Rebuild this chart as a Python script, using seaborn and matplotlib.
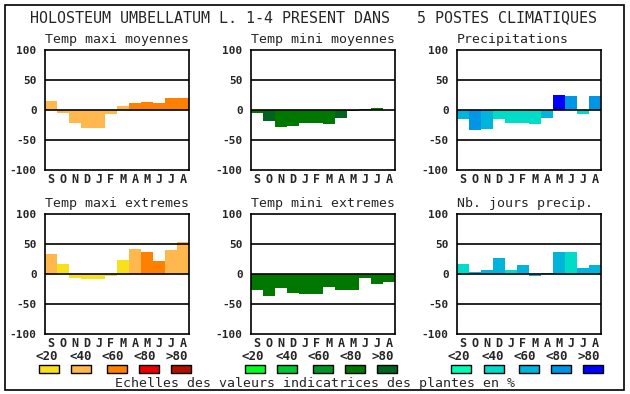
import numpy as np
import pandas as pd
import matplotlib
matplotlib.use("Agg")
import matplotlib.pyplot as plt
from matplotlib.patches import Rectangle
import seaborn as sns

sns.set_style("white")
plt.rcParams['font.family'] = ['DejaVu Sans Mono', 'DejaVu Sans']

# Data
months = ["S", "O", "N", "D", "J", "F", "M", "A", "M", "J", "J", "A"]
class_labels = ["<20", "<40", "<60", "<80", ">80"]

temp_maxi_moy = [15, -5, -22, -30, -30, -7, 7, 12, 14, 11, 20, 20]
temp_maxi_moy_cls = [1, 1, 1, 1, 1, 1, 1, 2, 2, 2, 2, 2]

temp_mini_moy = [-5, -18, -28, -26, -21, -21, -23, -14, -2, 2, 4, 0]
temp_mini_moy_cls = [3, 4, 3, 3, 3, 3, 3, 4, 4, 3, 3, 3]

precip = [-15, -34, -31, -15, -21, -22, -24, -14, 25, 24, -7, 24]
precip_cls = [2, 3, 2, 1, 1, 1, 1, 2, 4, 3, 1, 3]

temp_maxi_ext = [34, 17, -6, -8, -8, -3, 24, 42, 37, 21, 40, 54]
temp_maxi_ext_cls = [1, 0, 0, 0, 0, 0, 0, 1, 2, 2, 1, 1]

temp_mini_ext = [-27, -36, -23, -31, -33, -34, -21, -27, -27, -6, -16, -13]
temp_mini_ext_cls = [3, 3, 3, 3, 3, 3, 3, 3, 3, 3, 3, 3]

nb_jours = [17, 4, 7, 27, 7, 15, -3, 2, 37, 37, 10, 15]
nb_jours_cls = [1, 2, 2, 2, 1, 2, 2, 1, 2, 1, 2, 2]

orange_pal = ["#f8e01c", "#ffb84d", "#ff8000", "#e80000", "#b01000"]
green_pal = ["#00ff20", "#00c832", "#009628", "#007800", "#006420"]
blue_pal = ["#00ffb4", "#00dcc8", "#00b4dc", "#0096e6", "#0000ff"]

panels = [
    ("Temp maxi moyennes", temp_maxi_moy, temp_maxi_moy_cls, orange_pal),
    ("Temp mini moyennes", temp_mini_moy, temp_mini_moy_cls, green_pal),
    ("Precipitations", precip, precip_cls, blue_pal),
    ("Temp maxi extremes", temp_maxi_ext, temp_maxi_ext_cls, orange_pal),
    ("Temp mini extremes", temp_mini_ext, temp_mini_ext_cls, green_pal),
    ("Nb. jours precip.", nb_jours, nb_jours_cls, blue_pal),
]

W, H = 630, 394
fig = plt.figure(figsize=(W / 100, H / 100), dpi=100)

col_left = [45, 251, 457]
row_top = [50, 214]
ax_w, ax_h = 144, 120

for i, (title, vals, cls, pal) in enumerate(panels):
    r, c = divmod(i, 3)
    x0 = col_left[c]
    y0 = row_top[r]
    ax = fig.add_axes([x0 / W, 1 - (y0 + ax_h) / H, ax_w / W, ax_h / H])
    df = pd.DataFrame({"pos": range(12), "val": vals,
                       "cls": [class_labels[k] for k in cls]})
    sns.barplot(data=df, x="pos", y="val", hue="cls", hue_order=class_labels,
                palette=dict(zip(class_labels, pal)), dodge=False, width=1.0,
                legend=False, ax=ax, saturation=1, linewidth=0, edgecolor="none")
    for y in (-50, 0, 50):
        ax.axhline(y, color="black", lw=1.2, zorder=3)
    ax.set_ylim(-100, 100)
    ax.set_xlim(-0.5, 11.5)
    ax.set_yticks([-100, -50, 0, 50, 100])
    ax.set_yticklabels(["-100", "-50", "0", "50", "100"], fontweight="bold", fontsize=8)
    ax.set_xticks(range(12))
    ax.set_xticklabels(months, fontweight="bold", fontsize=8.5)
    ax.tick_params(axis="both", length=0)
    ax.tick_params(axis="y", pad=6)
    ax.tick_params(axis="x", pad=2)
    ax.set_xlabel("")
    ax.set_ylabel("")
    for s in ax.spines.values():
        s.set_color("black")
        s.set_linewidth(1.2)
        s.set_visible(True)
    ax.set_title(title, loc="left", fontsize=9.5, pad=5)

# main title
fig.text(314 / W, 1 - 18 / H,
         "HOLOSTEUM UMBELLATUM L. 1-4 PRESENT DANS   5 POSTES CLIMATIQUES",
         ha="center", va="center", fontsize=10.8)

# class scales under the bottom row
swatch_x = [
    [39, 71, 107, 139, 171],
    [245, 277, 313, 345, 377],
    [451, 484, 519, 551, 583],
]
label_x = [
    [47, 81, 113, 145, 177],
    [253, 287, 319, 351, 383],
    [459, 493, 525, 557, 589],
]
for pal, sx, lx in zip([orange_pal, green_pal, blue_pal], swatch_x, label_x):
    for k in range(5):
        fig.text(lx[k] / W, 1 - 356 / H, class_labels[k], ha="center", va="center",
                 fontsize=9, fontweight="bold")
        fig.patches.append(Rectangle((sx[k] / W, 1 - 373 / H), 20 / W, 8 / H,
                                     transform=fig.transFigure, facecolor=pal[k],
                                     edgecolor="black", lw=1))

fig.text(315 / W, 1 - 383 / H, "Echelles des valeurs indicatrices des plantes en %",
         ha="center", va="center", fontsize=9.5)

# outer frame
fig.patches.append(Rectangle((5 / W, 1 - 390 / H), 619 / W, 385 / H,
                             transform=fig.transFigure, fill=False,
                             edgecolor="black", lw=1.2))

fig.savefig("out.png", dpi=100)
